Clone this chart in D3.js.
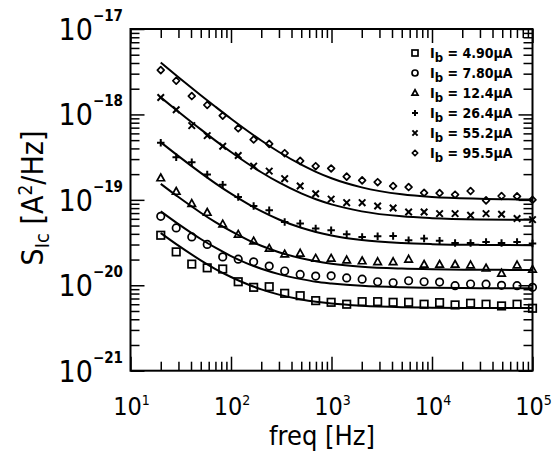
<!DOCTYPE html>
<html>
<head>
<meta charset="utf-8">
<script src="https://cdn.jsdelivr.net/npm/d3@7"></script>
<style>
  html, body { margin: 0; padding: 0; background: #fff; }
  svg { display: block; }
  text { fill: #000; }
</style>
</head>
<body>
<svg id="chart" width="553" height="474"></svg>
<script>
// ---------------- DATA ----------------
const freq = [20, 28.5, 40.7, 58, 82.7, 118, 168, 240, 342, 488, 696, 992, 1416, 2018,
  2878, 4104, 5852, 8345, 11900, 16970, 24200, 34500, 49200, 70200, 100000];

const seriesLabels = ["4.90", "7.80", "12.4", "26.4", "55.2", "95.5"];
const seriesMarkers = ["square", "circle", "triangle", "plus", "cross", "diamond"];

const sIb490 = [3.85e-20, 2.46e-20, 1.77e-20, 1.60e-20, 1.55e-20, 1.10e-20, 9.46e-21, 9.62e-21,
  8.05e-21, 7.55e-21, 6.61e-21, 6.32e-21, 6.00e-21, 6.43e-21, 6.43e-21, 6.32e-21, 6.32e-21,
  6.00e-21, 6.26e-21, 5.89e-21, 6.16e-21, 6.00e-21, 5.73e-21, 6.00e-21, 5.38e-21];
const sIb780 = [6.42e-20, 4.69e-20, 3.68e-20, 3.01e-20, 2.15e-20, 2.02e-20, 1.88e-20, 1.68e-20,
  1.47e-20, 1.34e-20, 1.28e-20, 1.29e-20, 1.22e-20, 1.18e-20, 1.10e-20, 1.07e-20, 1.13e-20,
  1.10e-20, 1.09e-20, 9.89e-21, 1.035e-20, 1.03e-20, 9.98e-21, 9.89e-21, 9.46e-21];
const sIb124 = [1.80e-19, 1.25e-19, 9.04e-20, 7.10e-20, 5.18e-20, 3.93e-20, 3.28e-20, 2.70e-20,
  2.31e-20, 2.36e-20, 2.06e-20, 2.06e-20, 1.97e-20, 1.92e-20, 1.88e-20, 1.88e-20, 2.01e-20,
  1.75e-20, 1.75e-20, 1.75e-20, 1.72e-20, 1.58e-20, 1.38e-20, 1.72e-20, 1.53e-20];
const sIb264 = [4.65e-19, 3.15e-19, 2.76e-19, 1.98e-19, 1.50e-19, 1.08e-19, 8.47e-20, 7.55e-20,
  5.51e-20, 5.27e-20, 4.61e-20, 4.41e-20, 3.96e-20, 3.68e-20, 3.75e-20, 3.78e-20, 3.37e-20,
  3.53e-20, 3.31e-20, 3.13e-20, 3.13e-20, 3.22e-20, 3.13e-20, 3.22e-20, 3.08e-20];
const sIb552 = [1.58e-18, 1.135e-18, 7.40e-19, 5.65e-19, 4.24e-19, 3.30e-19, 2.48e-19, 2.17e-19,
  1.77e-19, 1.45e-19, 1.18e-19, 1.02e-19, 9.27e-20, 9.27e-20, 8.47e-20, 8.02e-20, 7.21e-20,
  7.21e-20, 6.90e-20, 6.90e-20, 6.59e-20, 6.90e-20, 6.78e-20, 6.04e-20, 5.87e-20];
const sIb955 = [3.30e-18, 2.48e-18, 1.64e-18, 1.29e-18, 9.66e-19, 6.87e-19, 5.08e-19, 4.52e-19,
  3.52e-19, 2.86e-19, 2.48e-19, 2.33e-19, 1.87e-19, 1.69e-19, 1.61e-19, 1.45e-19, 1.41e-19,
  1.21e-19, 1.20e-19, 1.15e-19, 1.27e-19, 9.86e-20, 1.11e-19, 1.10e-19, 1.00e-19];

// fitted curves, read at knot frequencies
const fitFreq = [20, 30, 50, 70, 100, 150, 200, 300, 500, 700, 1000, 2000, 5000, 10000, 30000, 100000];
const fit490 = [4.09e-20, 2.91e-20, 1.96e-20, 1.55e-20, 1.25e-20, 1.013e-20, 8.95e-21, 7.77e-21,
  6.82e-21, 6.41e-21, 6.11e-21, 5.76e-21, 5.54e-21, 5.47e-21, 5.42e-21, 5.41e-21];
const fit780 = [7.32e-20, 5.19e-20, 3.48e-20, 2.75e-20, 2.20e-20, 1.77e-20, 1.56e-20, 1.35e-20,
  1.18e-20, 1.10e-20, 1.05e-20, 9.84e-21, 9.46e-21, 9.33e-21, 9.24e-21, 9.21e-21];
const fit124 = [1.54e-19, 1.078e-19, 7.07e-20, 5.48e-20, 4.29e-20, 3.36e-20, 2.90e-20, 2.44e-20,
  2.07e-20, 1.91e-20, 1.79e-20, 1.65e-20, 1.57e-20, 1.54e-20, 1.52e-20, 1.51e-20];
const fit264 = [4.72e-19, 3.25e-19, 2.07e-19, 1.56e-19, 1.18e-19, 8.85e-20, 7.37e-20, 5.89e-20,
  4.71e-20, 4.21e-20, 3.83e-20, 3.38e-20, 3.12e-20, 3.03e-20, 2.97e-20, 2.95e-20];
const fit552 = [1.583e-18, 1.075e-18, 6.68e-19, 4.94e-19, 3.63e-19, 2.61e-19, 2.105e-19, 1.597e-19,
  1.19e-19, 1.016e-19, 8.85e-20, 7.33e-20, 6.41e-20, 6.11e-20, 5.9e-20, 5.83e-20];
const fit955 = [4.05e-18, 2.73e-18, 1.68e-18, 1.23e-18, 8.9e-19, 6.27e-19, 4.95e-19, 3.63e-19,
  2.58e-19, 2.13e-19, 1.79e-19, 1.40e-19, 1.16e-19, 1.08e-19, 1.03e-19, 1.01e-19];

const xDecades = [1, 2, 3, 4, 5];          // tick labels 10^n
const yDecades = [-17, -18, -19, -20, -21];

// ---------------- LAYOUT ----------------
const svg = d3.select("#chart");
const L = 130.5, R = 532.5, T = 29, B = 370.7;
const x = d3.scaleLog().domain([10, 1e5]).range([L, R]);
const y = d3.scaleLog().domain([1e-21, 1e-17]).range([B, T]);

const seriesData = [sIb490, sIb780, sIb124, sIb264, sIb552, sIb955];
const fitData = [fit490, fit780, fit124, fit264, fit552, fit955];

// ---- ticks via d3 axes (inward) ----
const isDecade = v => Math.abs(Math.log10(v) - Math.round(Math.log10(v))) < 1e-9;
const majorX = x.ticks().filter(isDecade);
const minorX = x.ticks().filter(v => !isDecade(v));
const majorY = y.ticks().filter(isDecade);
const minorY = y.ticks().filter(v => !isDecade(v));

function addAxis(axisFn, scale, values, size, transform) {
  const g = svg.append("g").attr("transform", transform)
    .call(axisFn(scale).tickValues(values).tickSize(size).tickFormat(""));
  g.select(".domain").remove();
  g.selectAll("line").attr("stroke", "#000").attr("stroke-width", 1.5);
}
const MAJ = 14, MIN = 9;
addAxis(d3.axisTop, x, majorX, MAJ, `translate(0,${B})`);
addAxis(d3.axisTop, x, minorX, MIN, `translate(0,${B})`);
addAxis(d3.axisBottom, x, majorX, MAJ, `translate(0,${T})`);
addAxis(d3.axisBottom, x, minorX, MIN, `translate(0,${T})`);
addAxis(d3.axisRight, y, majorY, MAJ, `translate(${L},0)`);
addAxis(d3.axisRight, y, minorY, MIN, `translate(${L},0)`);
addAxis(d3.axisLeft, y, majorY, MAJ, `translate(${R},0)`);
addAxis(d3.axisLeft, y, minorY, MIN, `translate(${R},0)`);

// frame
svg.append("rect").attr("x", L).attr("y", T).attr("width", R - L).attr("height", B - T)
  .attr("fill", "none").attr("stroke", "#000").attr("stroke-width", 2);

// ---- tick labels ----
const FONT = "'Liberation Sans Narrow','DejaVu Sans Condensed','Liberation Sans',sans-serif";
xDecades.forEach(n => {
  const t = svg.append("text").attr("x", x(Math.pow(10, n)) + 1).attr("y", 415)
    .attr("text-anchor", "middle").attr("font-family", FONT);
  t.append("tspan").attr("font-size", 25).text("10");
  t.append("tspan").attr("font-size", 14).attr("dy", -10).text(String(n));
});
yDecades.forEach(n => {
  const yy = y(Math.pow(10, n));
  const t = svg.append("text").attr("x", 123).attr("y", yy + 11)
    .attr("text-anchor", "end").attr("font-family", FONT);
  t.append("tspan").attr("font-size", 30).text("10");
  t.append("tspan").attr("font-size", 15).attr("font-weight", "bold").attr("dy", -19).text("\u2212" + String(-n));
});

// ---- axis titles ----
svg.append("text").attr("x", 322).attr("y", 445).attr("text-anchor", "middle")
  .attr("font-family", FONT).attr("font-size", 27).text("freq [Hz]");

const yl = svg.append("text").attr("transform", "translate(43,198) rotate(-90)")
  .attr("text-anchor", "middle").attr("font-family", FONT).attr("font-size", 30);
yl.append("tspan").text("S");
yl.append("tspan").attr("font-size", 20).attr("dy", 6).text("Ic");
yl.append("tspan").attr("dy", -6).text(" [A");
yl.append("tspan").attr("font-size", 19).attr("dy", -11).text("2");
yl.append("tspan").attr("dy", 11).text("/Hz]");

// ---- fit curves ----
const line = d3.line().x(d => x(d[0])).y(d => y(d[1])).curve(d3.curveMonotoneX);
const plot = svg.append("g");
fitData.forEach(fd => {
  plot.append("path").datum(fitFreq.map((f, i) => [f, fd[i]]))
    .attr("d", line).attr("fill", "none").attr("stroke", "#000").attr("stroke-width", 2);
});

// ---- markers ----
function drawMarker(g, type, cx, cy, s) {
  const sw = 1.7;
  if (type === "square") {
    g.append("rect").attr("x", cx - s / 2).attr("y", cy - s / 2).attr("width", s).attr("height", s)
      .attr("fill", "none").attr("stroke", "#000").attr("stroke-width", sw);
  } else if (type === "circle") {
    g.append("circle").attr("cx", cx).attr("cy", cy).attr("r", s / 2)
      .attr("fill", "none").attr("stroke", "#000").attr("stroke-width", sw);
  } else if (type === "triangle") {
    const h = s * 0.9;
    g.append("path").attr("d", `M${cx},${cy - h * 0.6}L${cx + s / 2},${cy + h * 0.4}L${cx - s / 2},${cy + h * 0.4}Z`)
      .attr("fill", "none").attr("stroke", "#000").attr("stroke-width", sw);
  } else if (type === "plus") {
    const a = s / 2;
    g.append("path").attr("d", `M${cx - a},${cy}H${cx + a}M${cx},${cy - a}V${cy + a}`)
      .attr("fill", "none").attr("stroke", "#000").attr("stroke-width", sw + 0.3);
  } else if (type === "cross") {
    const a = s / 2.3;
    g.append("path").attr("d", `M${cx - a},${cy - a}L${cx + a},${cy + a}M${cx - a},${cy + a}L${cx + a},${cy - a}`)
      .attr("fill", "none").attr("stroke", "#000").attr("stroke-width", sw + 0.3);
  } else if (type === "diamond") {
    const a = s / 2.2;
    g.append("path").attr("d", `M${cx},${cy - a}L${cx + a},${cy}L${cx},${cy + a}L${cx - a},${cy}Z`)
      .attr("fill", "none").attr("stroke", "#000").attr("stroke-width", sw).attr("stroke-linejoin", "round");
  }
}
seriesData.forEach((sd, k) => {
  sd.forEach((v, i) => drawMarker(plot, seriesMarkers[k], x(freq[i]), y(v), 7.5));
});

// ---- legend ----
const leg = svg.append("g");
seriesLabels.forEach((lab, k) => {
  const ly = 53 + k * 20;
  drawMarker(leg, seriesMarkers[k], 415, ly, 6);
  const t = leg.append("text").attr("x", 430).attr("y", ly + 5)
    .attr("font-family", FONT).attr("font-size", 14).attr("font-weight", "bold");
  t.append("tspan").text("I");
  t.append("tspan").attr("dy", 4).attr("font-size", 13).text("b");
  t.append("tspan").attr("dy", -4).text(" = " + lab + "\u03bcA");
});
</script>
</body>
</html>
